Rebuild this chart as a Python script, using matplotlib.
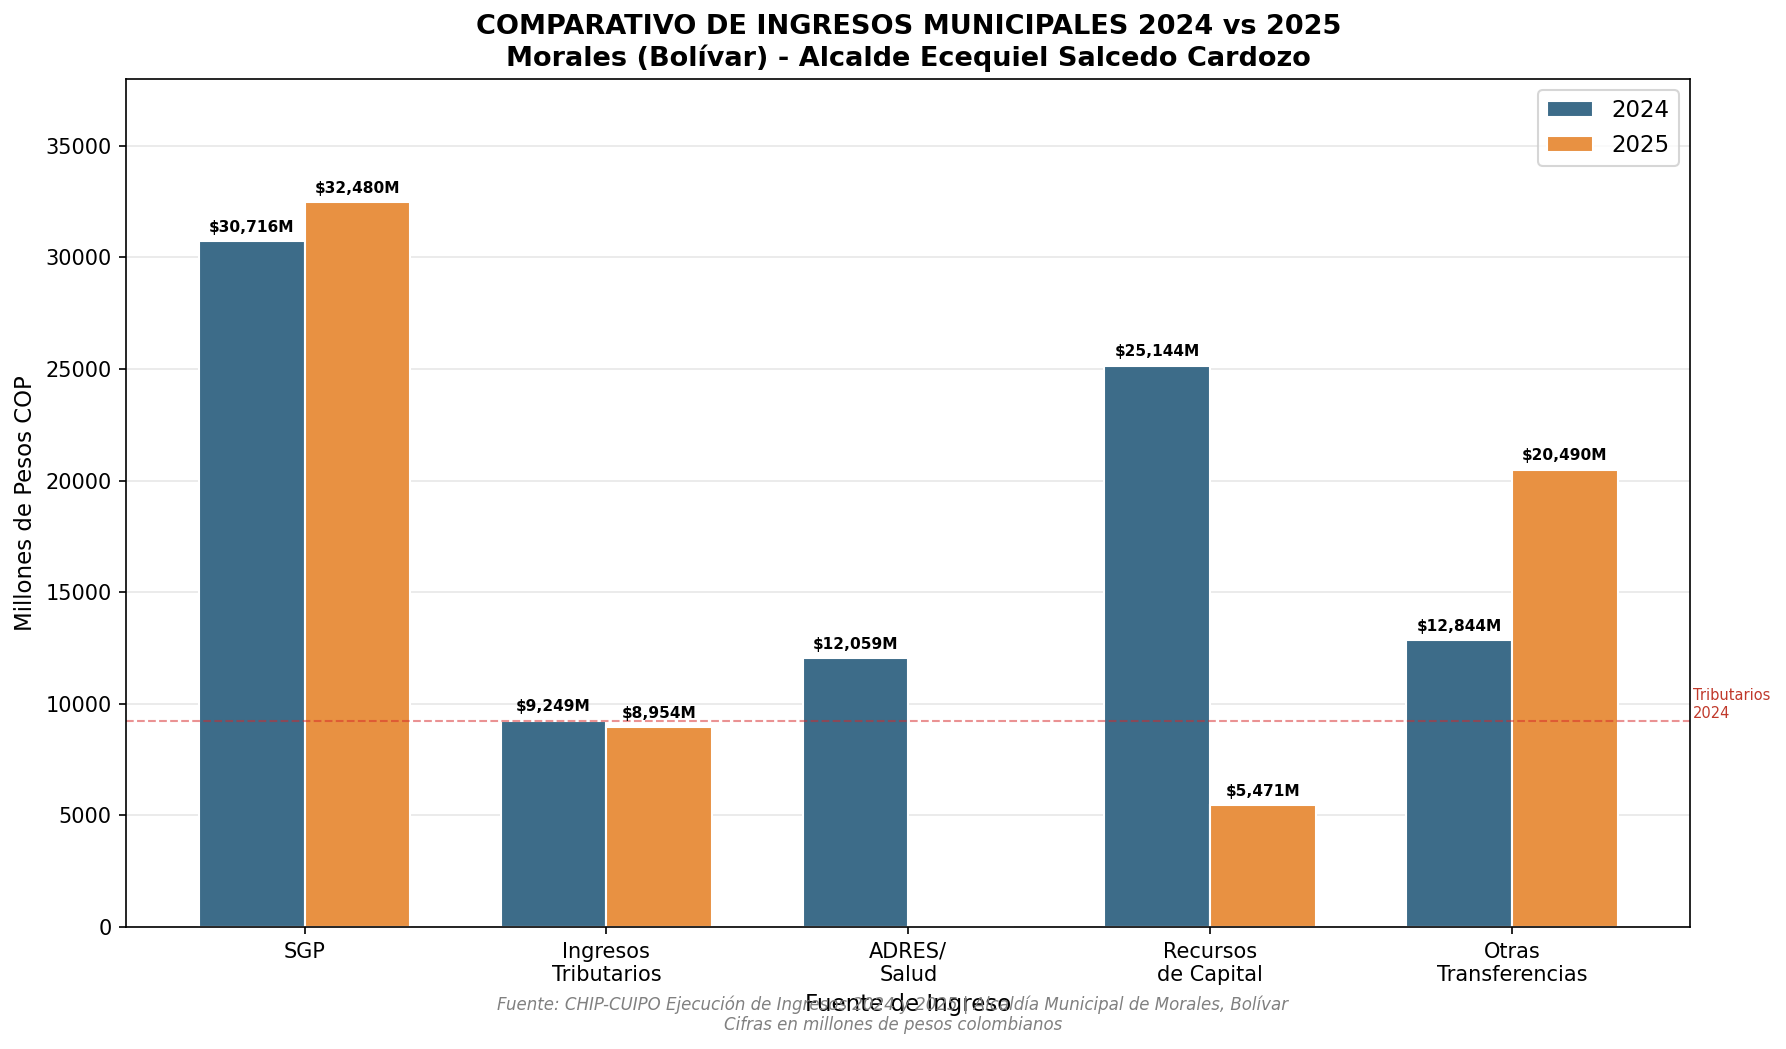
import numpy as np
import matplotlib
matplotlib.use("Agg")
import matplotlib.pyplot as plt

# ── Data ───────────────────────────────────────────────────────────────
categorias = ["SGP", "Ingresos\nTributarios", "ADRES/\nSalud", "Recursos\nde Capital", "Otras\nTransferencias"]
ing_2024 = [30716, 9249, 12059, 25144, 12844]
ing_2025 = [32480, 8954, 0, 5471, 20490]
ref_tributarios = 9249

C24 = "#3d6c89"
C25 = "#e89142"

fig = plt.figure(figsize=(1786 / 150, 1049 / 150), dpi=150)
ax = fig.add_axes([0.0708, 0.1163, 0.8755, 0.8087])

x = np.arange(len(categorias))
w = 0.35
b1 = ax.bar(x - w / 2, ing_2024, w, color=C24, edgecolor="white", linewidth=1, label="2024")
b2 = ax.bar(x + w / 2, ing_2025, w, color=C25, edgecolor="white", linewidth=1, label="2025")

for bars in (b1, b2):
    for b in bars:
        h = b.get_height()
        if h > 0:
            ax.annotate(f"${h:,.0f}M", (b.get_x() + b.get_width() / 2, h),
                        xytext=(0, 3), textcoords="offset points",
                        ha="center", va="bottom", fontsize=7.4, fontweight="bold")

# línea de referencia: tributarios 2024
ax.axhline(ref_tributarios, color="#d62728", linestyle="--", linewidth=1, alpha=0.5)
ax.text(1.002, ref_tributarios, "Tributarios\n2024", transform=ax.get_yaxis_transform(),
        fontsize=7, color="#c0392b", va="bottom", ha="left")

ax.set_xticks(x)
ax.set_xticklabels(categorias, fontsize=10)
ax.set_ylim(0, 38000)
ax.set_yticks(np.arange(0, 35001, 5000))
ax.tick_params(axis="y", labelsize=10)
ax.set_xlim(-0.59, 4.59)
ax.yaxis.grid(True, alpha=0.3)
ax.set_axisbelow(True)
ax.set_ylabel("Millones de Pesos COP", fontsize=11)
ax.set_xlabel("Fuente de Ingreso", fontsize=11)
ax.set_title("COMPARATIVO DE INGRESOS MUNICIPALES 2024 vs 2025\nMorales (Bolívar) - Alcalde Ecequiel Salcedo Cardozo",
             fontsize=13, fontweight="bold")
ax.legend(loc="upper right", fontsize=11)

fig.text(0.5, 0.014, "Fuente: CHIP-CUIPO Ejecución de Ingresos 2024 y 2025 | Alcaldía Municipal de Morales, Bolívar\n"
         "Cifras en millones de pesos colombianos",
         ha="center", va="bottom", fontsize=8, style="italic", color="gray")

fig.savefig("out.png", dpi=150)
